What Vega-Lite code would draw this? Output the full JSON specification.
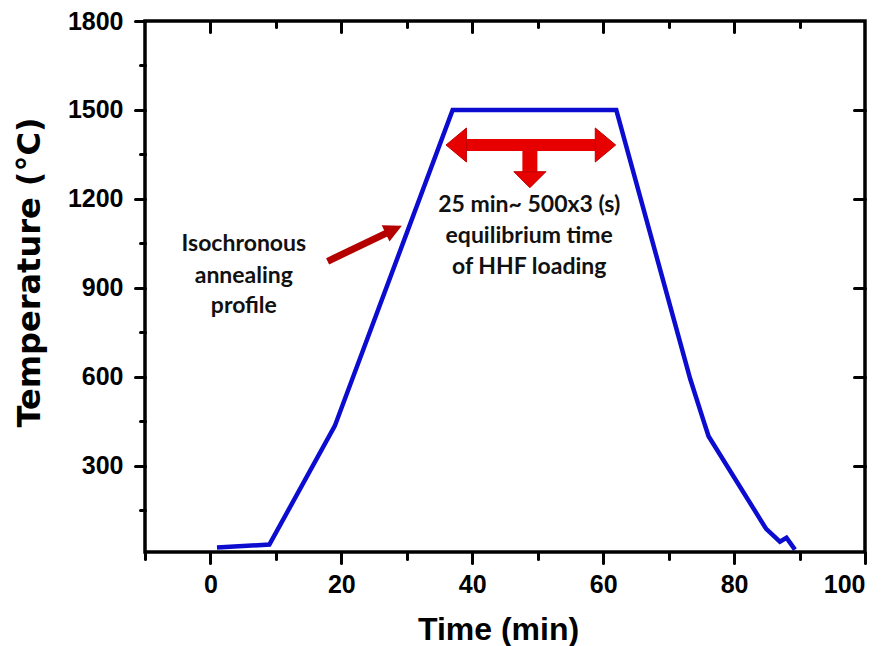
{
  "$schema": "https://vega.github.io/schema/vega-lite/v6.json",
  "autosize": {"type": "none"},
  "width": 720,
  "height": 531,
  "padding": {"left": 145, "top": 21, "right": 28, "bottom": 94},
  "background": "white",
  "config": {
    "view": {"stroke": "black", "strokeWidth": 3.5},
    "axis": {
      "domain": false,
      "grid": false,
      "tickColor": "black",
      "tickWidth": 3,
      "tickCap": "round",
      "format": "d",
      "labelFont": "Liberation Sans",
      "labelFontWeight": "bold",
      "labelFontSize": 25,
      "labelColor": "black",
      "titleFont": "Liberation Sans",
      "titleFontWeight": "bold",
      "titleColor": "black"
    }
  },
  "datasets": {
    "profile": [
      {"time": 1, "temp": 25},
      {"time": 9, "temp": 35},
      {"time": 19, "temp": 435},
      {"time": 37, "temp": 1500},
      {"time": 62, "temp": 1500},
      {"time": 73.3, "temp": 593},
      {"time": 75.4, "temp": 448},
      {"time": 76.1, "temp": 400},
      {"time": 84.9, "temp": 88},
      {"time": 87, "temp": 45},
      {"time": 88, "temp": 58},
      {"time": 89.3, "temp": 18}
    ],
    "hshaft": [{"t1": 37.55, "t2": 60.35, "y1": 1382}],
    "stem": [{"t1": 48.8, "y1": 1382, "y2": 1290}],
    "hheads": [
      {"time": 37.55, "temp": 1382, "dir": "left"},
      {"time": 60.35, "temp": 1382, "dir": "right"}
    ],
    "dhead": [{"time": 48.8, "temp": 1265}],
    "isoshaft": [{"t1": 17.9, "y1": 990, "t2": 28.0, "y2": 1097}],
    "isohead": [{"time": 28.0, "temp": 1097}],
    "notes": [
      {"time": 48.7, "temp": 1181, "label": "25 min~ 500x3 (s)"},
      {"time": 48.7, "temp": 1076, "label": "equilibrium time"},
      {"time": 48.7, "temp": 972, "label": "of HHF loading"},
      {"time": 5.1, "temp": 1047, "label": "Isochronous"},
      {"time": 5.1, "temp": 942, "label": "annealing"},
      {"time": 5.1, "temp": 838, "label": "profile"}
    ]
  },
  "resolve": {"axis": {"x": "independent", "y": "independent"}},
  "layer": [
    {
      "data": {"name": "profile"},
      "mark": {"type": "line", "color": "#0c0cd0", "strokeWidth": 4.5, "clip": true},
      "encoding": {
        "x": {"field": "time", "type": "quantitative",
              "scale": {"domain": [-10, 100], "nice": false, "zero": false},
              "axis": {"orient": "bottom", "values": [0, 20, 40, 60, 80, 100], "tickSize": 11,
                       "labelPadding": 9, "title": "Time (min)", "titleFontSize": 32, "titlePadding": 17, "titleX": 353}},
        "y": {"field": "temp", "type": "quantitative",
              "scale": {"domain": [10, 1800], "nice": false, "zero": false},
              "axis": {"orient": "left", "values": [300, 600, 900, 1200, 1500, 1800], "tickSize": 10,
                       "labelPadding": 12, "title": "Temperature (°C)", "titleFont": "DejaVu Sans", "titleFontSize": 32, "titlePadding": 21, "titleY": 251}}
      }
    },
    {
      "data": {"name": "hshaft"},
      "mark": {"type": "rule", "color": "#e60000", "strokeWidth": 12},
      "encoding": {
        "x": {"field": "t1", "type": "quantitative",
              "axis": {"orient": "bottom", "values": [-10, 10, 30, 50, 70, 90], "tickSize": 7, "labels": false, "title": null}},
        "x2": {"field": "t2"},
        "y": {"field": "y1", "type": "quantitative",
              "axis": {"orient": "left", "values": [150, 450, 750, 1050, 1350, 1650], "tickSize": 5, "labels": false, "title": null}}
      }
    },
    {
      "data": {"name": "stem"},
      "mark": {"type": "rule", "color": "#e60000", "strokeWidth": 15},
      "encoding": {
        "x": {"field": "t1", "type": "quantitative",
              "axis": {"orient": "top", "values": [0, 20, 40, 60, 80], "tickSize": -11, "labels": false, "title": null}},
        "y": {"field": "y1", "type": "quantitative",
              "axis": {"orient": "right", "values": [300, 600, 900, 1200, 1500], "tickSize": -11, "labels": false, "title": null}},
        "y2": {"field": "y2"}
      }
    },
    {
      "data": {"name": "hheads"},
      "transform": [{"filter": "datum.dir == 'left'"}],
      "mark": {"type": "point", "filled": true, "opacity": 1, "color": "#e60000",
               "shape": "M-0.6,0L0.6,-1L0.6,1Z", "size": 1156, "stroke": "#c00000", "strokeWidth": 1},
      "encoding": {
        "x": {"field": "time", "type": "quantitative",
              "axis": {"orient": "top", "values": [10, 30, 50, 70, 90], "tickSize": -6, "labels": false, "title": null}},
        "y": {"field": "temp", "type": "quantitative", "axis": null}
      }
    },
    {
      "data": {"name": "hheads"},
      "transform": [{"filter": "datum.dir == 'right'"}],
      "mark": {"type": "point", "filled": true, "opacity": 1, "color": "#e60000",
               "shape": "M0.6,0L-0.6,-1L-0.6,1Z", "size": 1156, "stroke": "#c00000", "strokeWidth": 1},
      "encoding": {
        "x": {"field": "time", "type": "quantitative", "axis": null},
        "y": {"field": "temp", "type": "quantitative", "axis": null}
      }
    },
    {
      "data": {"name": "dhead"},
      "mark": {"type": "point", "filled": true, "opacity": 1, "color": "#e60000",
               "shape": "M0,0.5L-1,-0.5L1,-0.5Z", "size": 1024, "stroke": "#c00000", "strokeWidth": 1},
      "encoding": {
        "x": {"field": "time", "type": "quantitative", "axis": null},
        "y": {"field": "temp", "type": "quantitative", "axis": null}
      }
    },
    {
      "data": {"name": "isoshaft"},
      "mark": {"type": "rule", "color": "#b50000", "strokeWidth": 7},
      "encoding": {
        "x": {"field": "t1", "type": "quantitative", "axis": null},
        "x2": {"field": "t2"},
        "y": {"field": "y1", "type": "quantitative", "axis": null},
        "y2": {"field": "y2"}
      }
    },
    {
      "data": {"name": "isohead"},
      "mark": {"type": "point", "filled": true, "opacity": 1, "color": "#b50000",
               "shape": "M1,0L-1,-1L-1,1Z", "size": 324, "angle": -25.6},
      "encoding": {
        "x": {"field": "time", "type": "quantitative", "axis": null},
        "y": {"field": "temp", "type": "quantitative", "axis": null}
      }
    },
    {
      "data": {"name": "notes"},
      "mark": {"type": "text", "font": "Lato", "fontWeight": "bold", "fontSize": 23, "color": "#111111",
               "align": "center", "baseline": "middle"},
      "encoding": {
        "x": {"field": "time", "type": "quantitative", "axis": null},
        "y": {"field": "temp", "type": "quantitative", "axis": null},
        "text": {"field": "label"}
      }
    }
  ]
}
